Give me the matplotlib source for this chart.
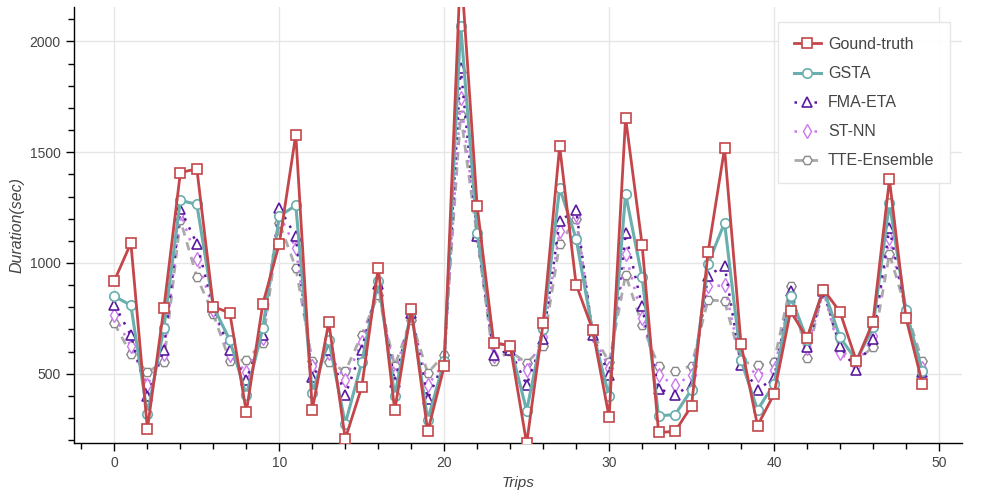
import matplotlib
matplotlib.use("Agg")
import matplotlib.pyplot as plt
from matplotlib.ticker import MultipleLocator

plt.rcParams['font.family'] = ['Liberation Sans', 'DejaVu Sans']

trips = list(range(50))

ground_truth = [920, 1090, 250, 795, 1408, 1425, 803, 774, 327, 815,
                1087, 1580, 337, 732, 206, 440, 978, 334, 792, 239,
                533, 2350, 1256, 639, 627, 185, 729, 1527, 902, 699,
                304, 1655, 1083, 235, 239, 355, 1048, 1517, 634, 265,
                408, 782, 661, 880, 779, 556, 733, 1377, 752, 455]

gsta = [849, 809, 318, 706, 1283, 1264, 803, 651, 402, 706,
        1211, 1260, 413, 651, 274, 551, 920, 401, 785, 292,
        556, 2072, 1136, 639, 627, 333, 704, 1339, 1110, 691,
        397, 1312, 935, 310, 315, 428, 996, 1181, 560, 337,
        453, 852, 654, 884, 664, 560, 709, 1271, 786, 510]

fma_eta = [812, 673, 397, 608, 1244, 1087, 804, 605, 473, 676,
           1249, 1120, 483, 605, 405, 608, 905, 462, 774, 386,
           556, 1881, 1120, 586, 605, 450, 657, 1188, 1241, 676,
           492, 1133, 804, 432, 405, 450, 943, 988, 541, 428,
           479, 872, 620, 872, 623, 518, 657, 1158, 782, 508]

st_nn = [763, 623, 450, 589, 1225, 1018, 789, 586, 506, 661,
         1218, 1068, 533, 593, 473, 641, 894, 495, 767, 447,
         548, 1746, 1128, 578, 616, 515, 664, 1146, 1218, 676,
         526, 1042, 752, 494, 447, 495, 894, 899, 551, 495,
         518, 849, 616, 872, 593, 533, 669, 1113, 782, 526]

tte_ensemble = [727, 589, 506, 554, 1193, 937, 768, 556, 563, 639,
                1181, 978, 556, 553, 510, 676, 857, 536, 744, 503,
                586, 1670, 1116, 556, 601, 548, 623, 1087, 1200, 684,
                553, 947, 721, 533, 510, 536, 834, 827, 556, 538,
                553, 898, 571, 884, 604, 560, 619, 1041, 789, 556]

fig = plt.figure(figsize=(10, 5), dpi=100)
ax = fig.add_axes([0.074, 0.114, 0.888, 0.873])

red = '#c4464a'
teal = '#6aaeae'
purple = '#5b1a9e'
violet = '#cc77ee'
gray = '#aaaaaa'

ax.plot(trips, ground_truth, color=red, lw=2.0, marker='s', ms=6.8,
        mfc='white', mec=red, mew=1.2, label='Gound-truth', zorder=6)
ax.plot(trips, gsta, color=teal, lw=2.2, marker='o', ms=6.8,
        mfc='white', mec=teal, mew=1.2, label='GSTA', zorder=5)
ax.plot(trips, fma_eta, color=purple, lw=1.8, ls=(0, (1, 3)), marker='^', ms=6.8,
        mfc='white', mec=purple, mew=1.2, label='FMA-ETA', zorder=4)
ax.plot(trips, st_nn, color=violet, lw=1.8, ls=(0, (1, 3)), marker='d', ms=6.8,
        mfc='white', mec=violet, mew=1.0, label='ST-NN', zorder=3)
ax.plot(trips, tte_ensemble, color=gray, lw=2.0, ls=(0, (3, 2.5)), marker='H', ms=6.8,
        mfc='white', mec='#888888', mew=1.0, label='TTE-Ensemble', zorder=2)

ax.set_xlim(-2.45, 51.4)
ax.set_ylim(187, 2158)

ax.xaxis.set_major_locator(MultipleLocator(10))
ax.xaxis.set_minor_locator(MultipleLocator(2))
ax.yaxis.set_major_locator(MultipleLocator(500))
ax.yaxis.set_minor_locator(MultipleLocator(100))

ax.grid(True, which='major', color='#e6e6e6', lw=1.0)
ax.set_axisbelow(True)
for s in ['top', 'right']:
    ax.spines[s].set_visible(False)
for s in ['left', 'bottom']:
    ax.spines[s].set_color('black')
    ax.spines[s].set_linewidth(1.0)

ax.tick_params(which='major', direction='out', length=6, width=1, color='black',
               labelsize=10, labelcolor='#444444')
ax.tick_params(which='minor', direction='out', length=4, width=1, color='black')

ax.set_xlabel('Trips', fontsize=11, fontstyle='italic', color='#444444', labelpad=4)
ax.set_ylabel('Duration(sec)', fontsize=11.5, fontstyle='italic', color='#444444', labelpad=4)

leg = ax.legend(loc='upper right', bbox_to_anchor=(0.995, 0.983), fontsize=11.5,
                frameon=True, fancybox=False, edgecolor='#e5e5e5', framealpha=0.95,
                handlelength=1.7, borderpad=0.95, labelspacing=0.88, handletextpad=0.45)
for t in leg.get_texts():
    t.set_color('#444444')

fig.savefig('out.png', dpi=100)
